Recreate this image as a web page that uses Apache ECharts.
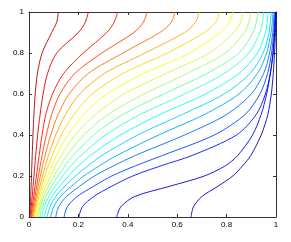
<!DOCTYPE html>
<html>
<head>
<meta charset="utf-8">
<script src="https://cdn.jsdelivr.net/npm/echarts@6/dist/echarts.min.js"></script>
<style>
html,body{margin:0;padding:0;background:#fff;}
#chart{width:291px;height:242px;}
</style>
</head>
<body>
<div id="chart"></div>
<script>
// y positions at which each contour line's x position was read
const yRows = [0, 0.05, 0.1, 0.15, 0.2, 0.25, 0.3, 0.4, 0.5, 0.6, 0.7, 0.8, 0.9, 0.95, 1];

// x positions of each contour line (highest level first), one value per y row
const line0  = [0.002, 0.005, 0.007, 0.0085, 0.010, 0.0115, 0.013, 0.016, 0.020, 0.025, 0.034, 0.053, 0.092, 0.112, 0.119];
const line1  = [0.004, 0.009, 0.013, 0.0165, 0.020, 0.0235, 0.027, 0.035, 0.045, 0.057, 0.075, 0.112, 0.200, 0.228, 0.240];
const line2  = [0.007, 0.013, 0.019, 0.0245, 0.030, 0.0355, 0.041, 0.053, 0.068, 0.095, 0.140, 0.220, 0.315, 0.345, 0.359];
const line3  = [0.010, 0.017, 0.024, 0.031, 0.038, 0.0455, 0.053, 0.070, 0.092, 0.125, 0.185, 0.295, 0.425, 0.463, 0.478];
const line4  = [0.013, 0.021, 0.029, 0.037, 0.046, 0.055, 0.065, 0.088, 0.118, 0.162, 0.240, 0.380, 0.530, 0.576, 0.591];
const line5  = [0.017, 0.025, 0.034, 0.044, 0.055, 0.066, 0.079, 0.108, 0.148, 0.205, 0.305, 0.470, 0.630, 0.674, 0.688];
const line6  = [0.021, 0.029, 0.039, 0.051, 0.064, 0.078, 0.094, 0.130, 0.182, 0.255, 0.380, 0.560, 0.710, 0.756, 0.771];
const line7  = [0.026, 0.034, 0.045, 0.059, 0.075, 0.092, 0.111, 0.157, 0.222, 0.315, 0.465, 0.650, 0.775, 0.812, 0.826];
const line8  = [0.031, 0.040, 0.052, 0.068, 0.087, 0.107, 0.130, 0.187, 0.268, 0.385, 0.555, 0.730, 0.830, 0.856, 0.866];
const line9  = [0.037, 0.046, 0.060, 0.079, 0.101, 0.126, 0.153, 0.222, 0.320, 0.465, 0.640, 0.795, 0.872, 0.890, 0.899];
const line10 = [0.044, 0.054, 0.069, 0.091, 0.117, 0.146, 0.179, 0.262, 0.380, 0.545, 0.720, 0.850, 0.907, 0.920, 0.927];
const line11 = [0.052, 0.062, 0.080, 0.106, 0.136, 0.171, 0.210, 0.310, 0.450, 0.630, 0.790, 0.890, 0.935, 0.945, 0.950];
const line12 = [0.062, 0.073, 0.093, 0.124, 0.160, 0.201, 0.248, 0.370, 0.530, 0.715, 0.850, 0.925, 0.958, 0.964, 0.968];
const line13 = [0.073, 0.085, 0.108, 0.145, 0.188, 0.239, 0.295, 0.440, 0.620, 0.790, 0.895, 0.948, 0.972, 0.977, 0.981];
const line14 = [0.088, 0.100, 0.127, 0.172, 0.222, 0.285, 0.355, 0.525, 0.710, 0.850, 0.925, 0.962, 0.980, 0.985, 0.988];
const line15 = [0.108, 0.120, 0.152, 0.205, 0.265, 0.343, 0.430, 0.630, 0.800, 0.900, 0.950, 0.974, 0.987, 0.990, 0.993];
const line16 = [0.142, 0.155, 0.195, 0.262, 0.335, 0.432, 0.540, 0.750, 0.875, 0.935, 0.966, 0.982, 0.991, 0.994, 0.996];
const line17 = [0.202, 0.216, 0.262, 0.335, 0.420, 0.535, 0.660, 0.840, 0.920, 0.957, 0.977, 0.988, 0.994, 0.996, 0.998];
const line18 = [0.355, 0.372, 0.428, 0.570, 0.710, 0.795, 0.845, 0.905, 0.940, 0.962, 0.977, 0.988, 0.995, 0.997, 0.999];
const line19 = [0.656, 0.666, 0.700, 0.765, 0.825, 0.865, 0.898, 0.940, 0.967, 0.981, 0.989, 0.994, 0.998, 0.999, 1.000];

const contourLines = [line0, line1, line2, line3, line4, line5, line6, line7, line8, line9,
                      line10, line11, line12, line13, line14, line15, line16, line17, line18, line19];

const xTickLabels = ['0', '0.2', '0.4', '0.6', '0.8', '1'];
const yTickLabels = ['0', '0.2', '0.4', '0.6', '0.8', '1'];

// jet colormap
function jet(t) {
  const c = v => Math.round(255 * Math.max(0, Math.min(1, v)));
  const r = c(1.5 - Math.abs(4 * t - 3));
  const g = c(1.5 - Math.abs(4 * t - 2));
  const b = c(1.5 - Math.abs(4 * t - 1));
  return 'rgb(' + r + ',' + g + ',' + b + ')';
}

const n = contourLines.length;
const series = contourLines.map((xs, i) => ({
  type: 'line',
  xAxisIndex: 0,
  yAxisIndex: 0,
  data: xs.map((x, j) => [x, yRows[j]]),
  showSymbol: false,
  symbol: 'none',
  smooth: 0.3,
  lineStyle: { width: 0.9, color: jet((n - i) / (n + 1)) },
  silent: true
}));

const tickFmt = labels => v => labels[Math.round(v / 0.2)];
const labelFont = { fontFamily: 'Liberation Sans, Arial, sans-serif', fontSize: 8, color: '#000' };
const axisLineStyle = { show: true, onZero: false, lineStyle: { color: '#333', width: 1 } };

const chart = echarts.init(document.getElementById('chart'), null, { renderer: 'canvas' });
chart.setOption({
  animation: false,
  backgroundColor: '#fff',
  grid: { left: 29, right: 15, top: 12, bottom: 25, containLabel: false },
  xAxis: [
    { type: 'value', min: 0, max: 1, interval: 0.2, position: 'bottom',
      axisLine: axisLineStyle, axisTick: { show: true, inside: true, length: 3, lineStyle: { color: '#333' } },
      axisLabel: Object.assign({ margin: 4, formatter: tickFmt(xTickLabels) }, labelFont),
      splitLine: { show: false } },
    { type: 'value', min: 0, max: 1, interval: 0.2, position: 'top',
      axisLine: axisLineStyle, axisTick: { show: true, inside: true, length: 3, lineStyle: { color: '#333' } },
      axisLabel: { show: false }, splitLine: { show: false } }
  ],
  yAxis: [
    { type: 'value', min: 0, max: 1, interval: 0.2, position: 'left',
      axisLine: axisLineStyle, axisTick: { show: true, inside: true, length: 3, lineStyle: { color: '#333' } },
      axisLabel: Object.assign({ margin: 5, formatter: tickFmt(yTickLabels) }, labelFont),
      splitLine: { show: false } },
    { type: 'value', min: 0, max: 1, interval: 0.2, position: 'right',
      axisLine: axisLineStyle, axisTick: { show: true, inside: true, length: 3, lineStyle: { color: '#333' } },
      axisLabel: { show: false }, splitLine: { show: false } }
  ],
  series: series
});
</script>
</body>
</html>
